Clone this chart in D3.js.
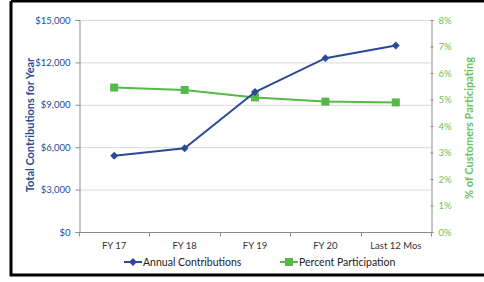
<!DOCTYPE html>
<html>
<head>
<meta charset="utf-8">
<script src="https://cdn.jsdelivr.net/npm/d3@7"></script>
<style>
  body { margin: 0; background: #fff; }
  text { font-family: Lato, "Open Sans", sans-serif; }
</style>
</head>
<body>
<script>
// chart data
var categories = ["FY 17", "FY 18", "FY 19", "FY 20", "Last 12 Mos"];
var contributions = [5400, 5920, 9900, 12300, 13200];
var participation = [5.45, 5.36, 5.08, 4.92, 4.89];
var leftTicks = [0, 3000, 6000, 9000, 12000, 15000];
var rightTicks = [0, 1, 2, 3, 4, 5, 6, 7, 8];

window.onload = function() {
    drawChart();
};

function drawChart() {
    var width = 484,
        height = 282,
        blue = "#2a4a98",
        green = "#55b947",
        labelGreen = "#6cc25a";

    var svg = d3.select("body")
        .append("svg")
        .attr("width", width)
        .attr("height", height);

    // frame
    svg.append("path")
        .attr("d", "M11,1 H490 M11,1 V275 H490")
        .attr("fill", "none")
        .attr("stroke", "#000")
        .attr("stroke-width", 3);

    var x = d3.scaleBand()
        .domain(categories)
        .range([79, 431]);

    var yL = d3.scaleLinear()
        .domain([0, 15000])
        .range([232, 20]);

    var yR = d3.scaleLinear()
        .domain([0, 8])
        .range([232, 20]);

    // gridlines
    svg.append("g")
        .selectAll("line")
        .data(leftTicks.slice(1))
        .enter()
        .append("line")
        .attr("x1", 79)
        .attr("x2", 431)
        .attr("y1", function(d) { return yL(d) + 0.5; })
        .attr("y2", function(d) { return yL(d) + 0.5; })
        .attr("stroke", "#d9d9d9")
        .attr("stroke-width", 1);

    // left axis
    var leftAxis = svg.append("g")
        .attr("transform", "translate(79.5,0)")
        .call(d3.axisLeft(yL)
            .tickValues(leftTicks)
            .tickSize(4)
            .tickPadding(5)
            .tickFormat(function(d) { return "$" + d3.format(",")(d); }));
    leftAxis.select(".domain").attr("stroke", "#8c8c8c");
    leftAxis.selectAll(".tick line").attr("stroke", "#8c8c8c");
    leftAxis.selectAll("text")
        .attr("fill", blue)
        .style("font-size", "9.5px");

    // right axis
    var rightAxis = svg.append("g")
        .attr("transform", "translate(431.5,0)")
        .call(d3.axisRight(yR)
            .tickValues(rightTicks)
            .tickSize(2)
            .tickPadding(5)
            .tickFormat(function(d) { return d + "%"; }));
    rightAxis.select(".domain").attr("stroke", "#8c8c8c");
    rightAxis.selectAll(".tick line")
        .attr("x1", -1)
        .attr("stroke", "#8c8c8c");
    rightAxis.selectAll("text")
        .attr("fill", labelGreen)
        .style("font-size", "9.5px");

    // x axis
    var xAxis = svg.append("g")
        .attr("transform", "translate(0,232.5)");
    xAxis.append("line")
        .attr("x1", 79)
        .attr("x2", 431)
        .attr("stroke", "#8c8c8c");
    var bounds = categories.map(function(d) { return x(d); }).concat([x.range()[1]]);
    xAxis.selectAll(".xtick")
        .data(bounds)
        .enter()
        .append("line")
        .attr("x1", function(d) { return Math.round(d) + 0.5; })
        .attr("x2", function(d) { return Math.round(d) + 0.5; })
        .attr("y1", 0)
        .attr("y2", 4)
        .attr("stroke", "#8c8c8c");
    xAxis.selectAll(".xlabel")
        .data(categories)
        .enter()
        .append("text")
        .attr("x", function(d) { return x(d) + x.bandwidth() / 2; })
        .attr("y", 16)
        .attr("text-anchor", "middle")
        .attr("fill", "#333")
        .style("font-size", "9.5px")
        .text(function(d) { return d; });

    // axis titles
    svg.append("text")
        .attr("transform", "translate(34,125) rotate(-90)")
        .attr("text-anchor", "middle")
        .attr("fill", blue)
        .style("font-size", "11px")
        .style("font-weight", "bold")
        .text("Total Contributions for Year");

    svg.append("text")
        .attr("transform", "translate(473,128) rotate(-90)")
        .attr("text-anchor", "middle")
        .attr("fill", labelGreen)
        .style("font-size", "11px")
        .style("font-weight", "bold")
        .text("% of Customers Participating");

    var cx = function(d, i) { return x(categories[i]) + x.bandwidth() / 2; };

    // participation line
    svg.append("path")
        .datum(participation)
        .attr("fill", "none")
        .attr("stroke", green)
        .attr("stroke-width", 2)
        .attr("d", d3.line().x(cx).y(function(d) { return yR(d); }));

    svg.selectAll(".sq")
        .data(participation)
        .enter()
        .append("rect")
        .attr("x", function(d, i) { return cx(d, i) - 4; })
        .attr("y", function(d) { return yR(d) - 4; })
        .attr("width", 8)
        .attr("height", 8)
        .attr("fill", green);

    // contributions line
    svg.append("path")
        .datum(contributions)
        .attr("fill", "none")
        .attr("stroke", blue)
        .attr("stroke-width", 2)
        .attr("d", d3.line().x(cx).y(function(d) { return yL(d); }));

    var diamond = d3.symbol().type(d3.symbolDiamond2).size(40);
    svg.selectAll(".dm")
        .data(contributions)
        .enter()
        .append("path")
        .attr("d", diamond)
        .attr("transform", function(d, i) { return "translate(" + cx(d, i) + "," + yL(d) + ")"; })
        .attr("fill", blue);

    // legend
    var legend = svg.append("g");
    legend.append("line")
        .attr("x1", 124).attr("x2", 142)
        .attr("y1", 262).attr("y2", 262)
        .attr("stroke", blue).attr("stroke-width", 2);
    legend.append("path")
        .attr("d", diamond)
        .attr("transform", "translate(133,262)")
        .attr("fill", blue);
    legend.append("text")
        .attr("x", 143).attr("y", 266)
        .attr("fill", "#222")
        .style("font-size", "10.5px")
        .text("Annual Contributions");

    legend.append("line")
        .attr("x1", 280).attr("x2", 298)
        .attr("y1", 262).attr("y2", 262)
        .attr("stroke", green).attr("stroke-width", 2);
    legend.append("rect")
        .attr("x", 285).attr("y", 258)
        .attr("width", 8).attr("height", 8)
        .attr("fill", green);
    legend.append("text")
        .attr("x", 299).attr("y", 266)
        .attr("fill", "#222")
        .style("font-size", "10.5px")
        .text("Percent Participation");
}
</script>
</body>
</html>
